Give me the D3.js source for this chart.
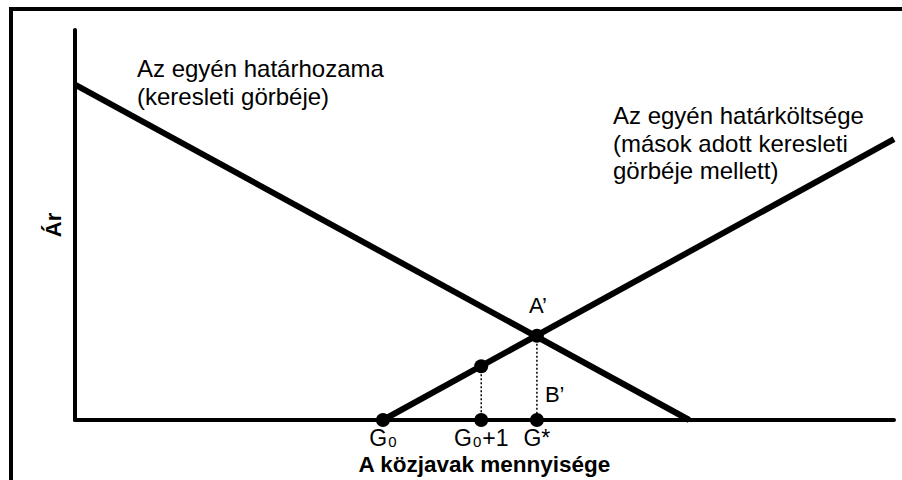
<!DOCTYPE html>
<html>
<head>
<meta charset="utf-8">
<title>Közjavak</title>
<script src="https://d3js.org/d3.v7.min.js"></script>
<style>
  body { margin: 0; background: #fff; }
  svg text { font-family: "Liberation Sans", Arial, sans-serif; fill: #000; }
</style>
</head>
<body>
<div id="chart"></div>
<script>
// values (quantity 0-100, price 0-100)
var demandLine = [{q: 0, p: 86}, {q: 75, p: 0}];      // határhozam
var supplyLine = [{q: 37.6, p: 0}, {q: 100, p: 72}];  // határköltség
var dots = [
  {q: 37.6, p: 0}, {q: 49.6, p: 0}, {q: 56.4, p: 0},
  {q: 49.6, p: 13.8}, {q: 56.4, p: 21.6}
];
var dropLines = [{q: 49.6, p: 13.8}, {q: 56.4, p: 21.6}];
var tickLabels = [
  {q: 37.6, main: "G", sub: "0", rest: ""},
  {q: 49.6, main: "G", sub: "0", rest: "+1"},
  {q: 56.4, main: "G*", sub: "", rest: ""}
];
var demandText = ["Az egyén határhozama", "(keresleti görbéje)"];
var supplyText = ["Az egyén határköltsége", "(mások adott keresleti", "görbéje mellett)"];

var width = 902, height = 480;
var x0 = 75, x1 = 894, yBase = 420, yTop = 30;

var svg = d3.select("#chart").append("svg")
  .attr("width", width)
  .attr("height", height);

// outer frame (runs off the right and bottom edge)
svg.append("rect")
  .attr("x", 11).attr("y", 9)
  .attr("width", 960).attr("height", 520)
  .attr("fill", "none")
  .attr("stroke", "#000")
  .attr("stroke-width", 4);

var x = d3.scaleLinear().domain([0, 100]).range([x0, x1]);
var y = d3.scaleLinear().domain([0, 100]).range([yBase, yTop]);

// axes
svg.append("line")
  .attr("x1", x(0)).attr("y1", y(100)).attr("x2", x(0)).attr("y2", y(0))
  .attr("stroke", "#000").attr("stroke-width", 4).attr("stroke-linecap", "round");
svg.append("line")
  .attr("x1", x(0)).attr("y1", y(0)).attr("x2", x(100)).attr("y2", y(0))
  .attr("stroke", "#000").attr("stroke-width", 4).attr("stroke-linecap", "round");

var line = d3.line()
  .x(function(d) { return x(d.q); })
  .y(function(d) { return y(d.p); });

// dotted drops
svg.selectAll("line.drop")
  .data(dropLines)
  .enter().append("line")
  .attr("class", "drop")
  .attr("x1", function(d) { return x(d.q); })
  .attr("x2", function(d) { return x(d.q); })
  .attr("y1", function(d) { return y(d.p); })
  .attr("y2", y(0))
  .attr("stroke", "#000")
  .attr("stroke-width", 1.5)
  .attr("stroke-dasharray", "2,2");

[demandLine, supplyLine].forEach(function(seg) {
  svg.append("path")
    .datum(seg)
    .attr("d", line)
    .attr("fill", "none")
    .attr("stroke", "#000")
    .attr("stroke-width", 6);
});

svg.selectAll("circle.dot")
  .data(dots)
  .enter().append("circle")
  .attr("class", "dot")
  .attr("cx", function(d) { return x(d.q); })
  .attr("cy", function(d) { return y(d.p); })
  .attr("r", 7)
  .attr("fill", "#000");

// curve labels
function block(lines, lx, ly) {
  svg.append("text")
    .attr("x", lx).attr("y", ly)
    .style("font-size", "24px")
    .selectAll("tspan")
    .data(lines)
    .enter().append("tspan")
    .attr("x", lx)
    .attr("dy", function(d, i) { return i ? 27.5 : 0; })
    .text(function(d) { return d; });
}
block(demandText, 137, 77);
block(supplyText, 613, 124);

// point labels
svg.append("text")
  .attr("x", x(56.4) + 1).attr("y", 313)
  .attr("text-anchor", "middle")
  .style("font-size", "22px")
  .text("A’");
svg.append("text")
  .attr("x", x(56.4) + 8).attr("y", 402)
  .style("font-size", "22px")
  .text("B’");

// tick labels
var ticks = svg.selectAll("text.tick")
  .data(tickLabels)
  .enter().append("text")
  .attr("class", "tick")
  .attr("x", function(d) { return x(d.q); })
  .attr("y", 446)
  .attr("text-anchor", "middle")
  .style("font-size", "23px");
ticks.append("tspan").text(function(d) { return d.main; });
ticks.append("tspan")
  .style("font-size", "15px")
  .attr("dx", function(d) { return d.sub ? 1 : 0; })
  .attr("dy", function(d) { return d.sub ? 1 : 0; })
  .text(function(d) { return d.sub; });
ticks.append("tspan")
  .attr("dx", function(d) { return d.rest ? 1 : 0; })
  .attr("dy", function(d) { return d.sub ? -1 : 0; })
  .text(function(d) { return d.rest; });

// axis titles
svg.append("text")
  .attr("x", (x0 + x1) / 2).attr("y", 472)
  .attr("text-anchor", "middle")
  .style("font-size", "22.5px")
  .style("font-weight", "bold")
  .text("A közjavak mennyisége");

svg.append("text")
  .attr("transform", "translate(61,225) rotate(-90)")
  .attr("text-anchor", "middle")
  .style("font-size", "22px")
  .style("font-weight", "bold")
  .text("Ár");
</script>
</body>
</html>
